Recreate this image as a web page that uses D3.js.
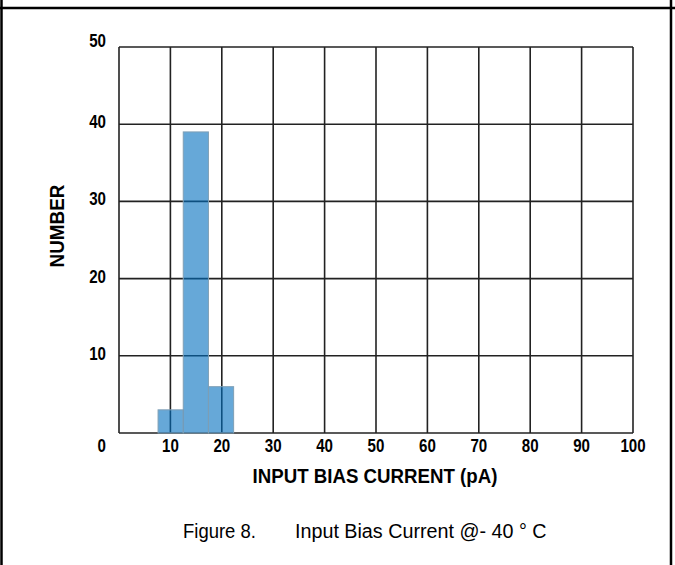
<!DOCTYPE html>
<html>
<head>
<meta charset="utf-8">
<script src="https://cdn.jsdelivr.net/npm/d3@7"></script>
<style>
  html, body { margin: 0; padding: 0; background: #fff; }
  svg text { font-family: "Liberation Sans Narrow", "Arial Narrow", "Liberation Sans", Arial, sans-serif; }
</style>
</head>
<body>
<div id="chart"></div>
<script>
const canvas_w = 675;
const canvas_h = 565;

// histogram bins (pA) and counts
const binStart = [ 7.6, 12.5, 17.4 ];
const binEnd   = [ 12.5, 17.4, 22.3 ];
const counts   = [ 3, 39, 6 ];

const xTicks = [ 10, 20, 30, 40, 50, 60, 70, 80, 90, 100 ];
const yTicks = [ 0, 10, 20, 30, 40, 50 ];

const xTitle  = 'INPUT BIAS CURRENT (pA)';
const yTitle  = 'NUMBER';
const figNo   = 'Figure 8.';
const caption = 'Input Bias Current @- 40 ° C';

const plot = { left: 119, right: 633, top: 47, bottom: 433 };

let x = d3.scaleLinear().domain( [ 0, 100 ] ).range( [ plot.left, plot.right ] );
let y = d3.scaleLinear().domain( [ 0, 50 ] ).range( [ plot.bottom, plot.top ] );

let svg = d3.select( '#chart' )
            .append( 'svg' )
            .attr( 'width', canvas_w )
            .attr( 'height', canvas_h );

// condensed look: squeeze text horizontally
function label( g, tx, ty, sx, rot ) {
    return g.append( 'text' )
            .attr( 'transform', 'translate(' + tx + ',' + ty + ')' + ( rot ? ' rotate(' + rot + ')' : '' ) + ' scale(' + sx + ',1)' );
}

// frame of the table cell
svg.append( 'line' ).attr( 'x1', 0 ).attr( 'x2', canvas_w ).attr( 'y1', 8 ).attr( 'y2', 8 )
   .attr( 'stroke', '#000' ).attr( 'stroke-width', 2.5 );
svg.append( 'line' ).attr( 'x1', 1.5 ).attr( 'x2', 1.5 ).attr( 'y1', 0 ).attr( 'y2', canvas_h )
   .attr( 'stroke', '#000' ).attr( 'stroke-width', 2.5 );
svg.append( 'line' ).attr( 'x1', 671 ).attr( 'x2', 671 ).attr( 'y1', 0 ).attr( 'y2', canvas_h )
   .attr( 'stroke', '#000' ).attr( 'stroke-width', 2.5 );

// grid
let grid = svg.append( 'g' ).attr( 'stroke', '#222' ).attr( 'stroke-width', 1.6 );
grid.selectAll( '.vx' )
    .data( [ 0 ].concat( xTicks ) )
    .enter()
    .append( 'line' )
    .attr( 'x1', d => x( d ) ).attr( 'x2', d => x( d ) )
    .attr( 'y1', plot.top ).attr( 'y2', plot.bottom );
grid.selectAll( '.hy' )
    .data( yTicks )
    .enter()
    .append( 'line' )
    .attr( 'x1', plot.left ).attr( 'x2', plot.right )
    .attr( 'y1', d => y( d ) ).attr( 'y2', d => y( d ) );

// bars (translucent, grid shows through)
svg.append( 'g' )
   .selectAll( 'rect' )
   .data( counts )
   .enter()
   .append( 'rect' )
   .attr( 'x', ( d, i ) => x( binStart[ i ] ) )
   .attr( 'width', ( d, i ) => x( binEnd[ i ] ) - x( binStart[ i ] ) )
   .attr( 'y', d => y( d ) )
   .attr( 'height', d => y( 0 ) - y( d ) )
   .attr( 'fill', '#006ebe' )
   .attr( 'fill-opacity', 0.6 )
   .attr( 'stroke', '#7f9fb5' )
   .attr( 'stroke-width', 1 );

// tick labels
let ty = svg.append( 'g' );
yTicks.forEach( d => {
    label( ty, 106, d === 0 ? 452 : y( d ) + ( d === 50 ? 0 : 4 ), 0.84 )
        .attr( 'text-anchor', 'end' )
        .attr( 'font-size', 18 )
        .attr( 'font-weight', 'bold' )
        .text( d );
} );

let tx = svg.append( 'g' );
xTicks.forEach( d => {
    label( tx, x( d ), 452, 0.84 )
        .attr( 'text-anchor', 'middle' )
        .attr( 'font-size', 18 )
        .attr( 'font-weight', 'bold' )
        .text( d );
} );

// axis titles
label( svg, 375, 483, 0.89 )
   .attr( 'text-anchor', 'middle' )
   .attr( 'font-size', 21 )
   .attr( 'font-weight', 'bold' )
   .text( xTitle );

label( svg, 64, 226, 0.9, -90 )
   .attr( 'text-anchor', 'middle' )
   .attr( 'font-size', 21 )
   .attr( 'font-weight', 'bold' )
   .text( yTitle );

// caption
label( svg, 183, 538, 0.88 )
   .attr( 'font-size', 21 )
   .text( figNo );
label( svg, 295, 538, 0.94 )
   .attr( 'font-size', 21 )
   .text( caption );
</script>
</body>
</html>
